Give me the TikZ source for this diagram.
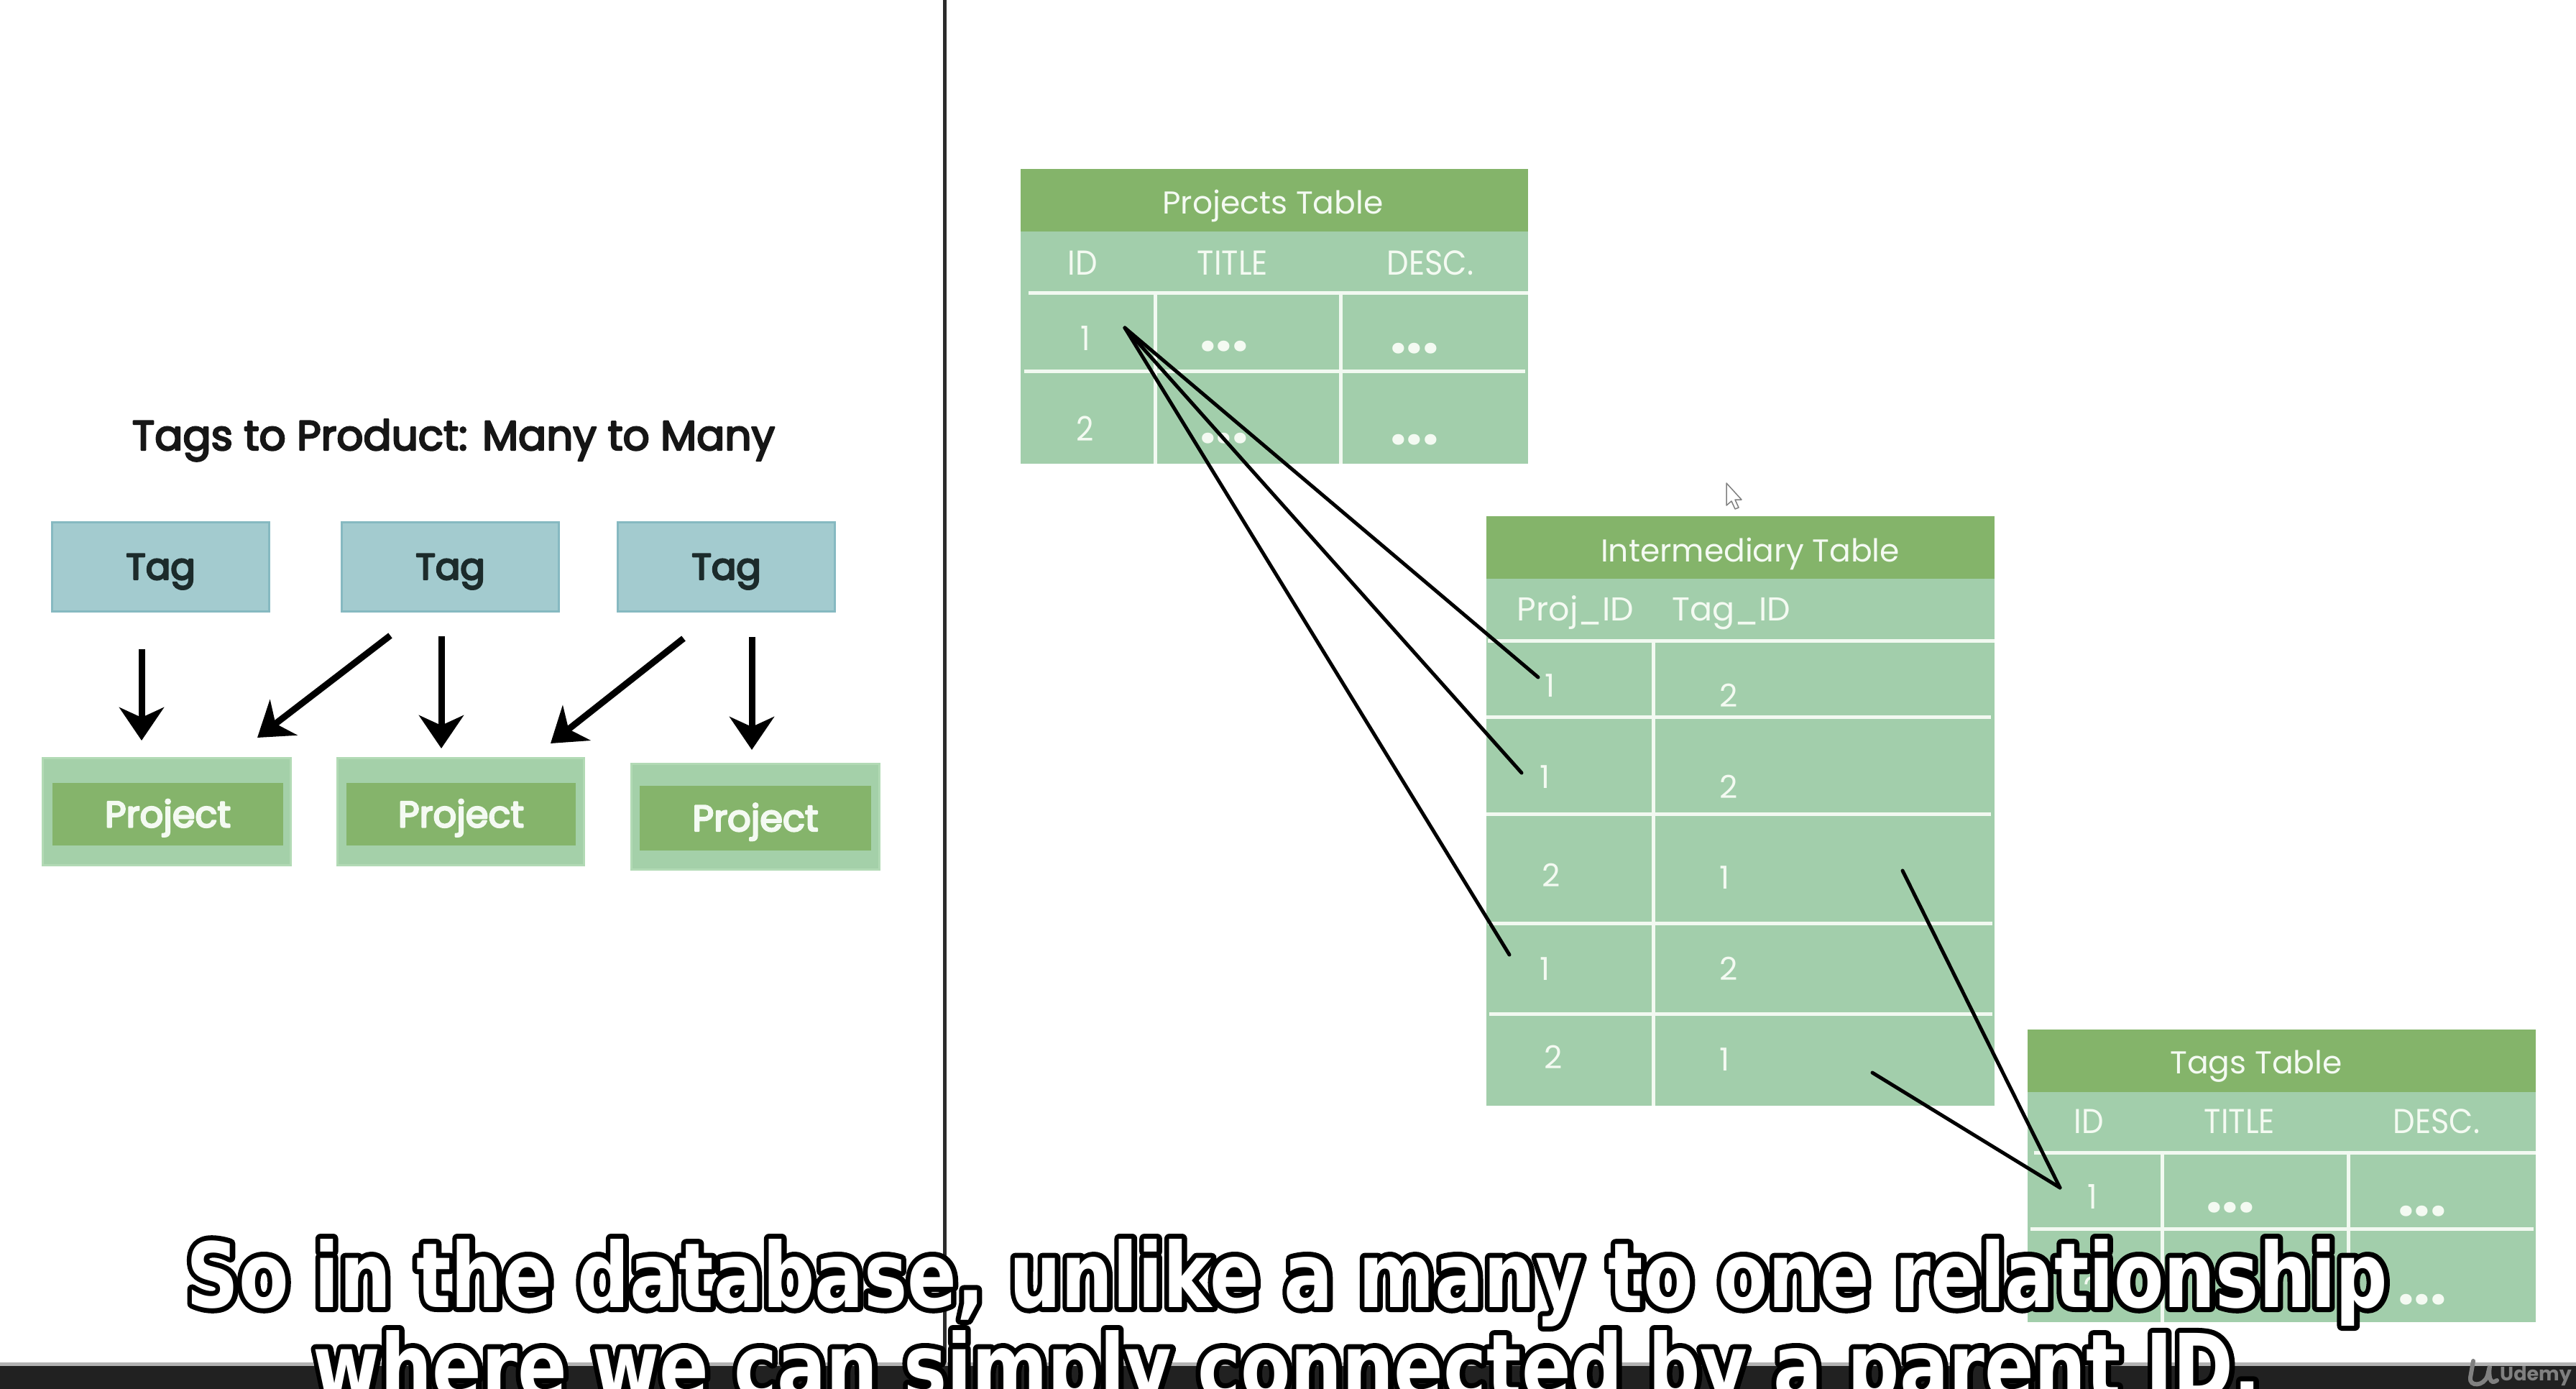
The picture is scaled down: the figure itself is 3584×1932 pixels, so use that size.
\documentclass[tikz,border=0pt]{standalone}
\usepackage{fontspec}
\setmainfont{Poppins}
\newfontfamily\subfont{DejaVu Sans}[FakeStretch=0.81]
\newfontfamily\condfont{Poppins}[FakeStretch=0.9]
\usetikzlibrary{arrows.meta}
\definecolor{hdrgreen}{HTML}{84B46A}
\definecolor{cellgreen}{HTML}{A2CEAB}
\definecolor{sepwhite}{HTML}{F2F9F1}
\definecolor{txtwhite}{HTML}{F4FAF2}
\definecolor{tagfill}{HTML}{A3CBCF}
\definecolor{tagedge}{HTML}{86B9C1}
\definecolor{tagtext}{HTML}{1C2B2B}
\definecolor{projouter}{HTML}{A4D0A9}
\definecolor{projedge}{HTML}{B2DAB5}
\definecolor{projinner}{HTML}{85B46B}
\definecolor{barcol}{HTML}{212121}
\definecolor{divider}{HTML}{2B2B2B}
\definecolor{titlecol}{HTML}{161616}
\newcommand\myfs[1]{\fontsize{#1}{#1}\selectfont}
\newcommand\medtext[1]{\special{pdf:literal direct 2 Tr 2.4 w 1 j}#1\special{pdf:literal direct 0 Tr}}
\newcommand\outlined[1]{\special{pdf:literal direct 2 Tr 14 w 1 j 0 g 0 G}#1\special{pdf:literal direct 0 Tr}}
\newcommand\subtext[1]{\rlap{\color{black}\outlined{#1}}#1}
\begin{document}
\begin{tikzpicture}[x=1pt,y=-1pt,
  sepline/.style={draw=sepwhite, line width=5pt},
  tabtitle/.style={inner sep=0, anchor=base, text=txtwhite, font=\myfs{44}},
  colhd/.style={inner sep=0, anchor=base, text=txtwhite, font=\condfont\myfs{48}},
  icolhd/.style={inner sep=0, anchor=base, text=txtwhite, font=\myfs{46}},
  tval/.style={inner sep=0, anchor=base, text=txtwhite, font=\myfs{44}},
  cval/.style={inner sep=0, anchor=base, text=txtwhite, font=\condfont\myfs{47}},
  tdots/.style={inner sep=0, text=txtwhite, font=\bfseries\myfs{80}},
  link/.style={draw=black, line width=5pt, line cap=round},
  tagbox/.style={draw=tagedge, line width=3pt, fill=tagfill, inner sep=0,
    minimum width=302pt, minimum height=124pt, text=tagtext, font=\myfs{51},
    text height=36pt, text depth=0pt},
  projbox/.style={draw=projedge, line width=3pt, fill=projouter, inner sep=0},
  projlabel/.style={fill=projinner, inner sep=0, text=txtwhite, font=\myfs{51},
    text height=36pt, text depth=0pt},
  manyarrow/.style={draw=black, line width=9pt, -{Stealth[length=46pt,width=62pt,inset=14pt]}},
  subline/.style={inner sep=0, anchor=base, text=white, font=\subfont\bfseries\myfs{125}}
]
\useasboundingbox (0,0) rectangle (3584,1932);
\clip (0,0) rectangle (3584,1932);
\fill[white] (0,0) rectangle (3584,1932);

% ---------- left panel ----------
\node[inner sep=0, anchor=base, text=titlecol, font=\myfs{58}] (title) at (631,626)
  {\medtext{Tags to Product: Many to Many}};

\node[tagbox] (tag1) at (223.5,788) {\medtext{Tag}};
\node[tagbox] (tag2) at (626.5,788) {\medtext{Tag}};
\node[tagbox] (tag3) at (1010.5,788) {\medtext{Tag}};

\node[projbox, minimum width=345pt, minimum height=149pt] (proj1) at (231.5,1128.5) {};
\node[projbox, minimum width=343pt, minimum height=149pt] (proj2) at (640.5,1128.5) {};
\node[projbox, minimum width=345pt, minimum height=147pt] (proj3) at (1050.5,1135.5) {};
\node[projlabel, minimum width=321pt, minimum height=87pt] (plab1) at (233.5,1132.5) {\medtext{Project}};
\node[projlabel, minimum width=319pt, minimum height=87pt] (plab2) at (641.5,1132.5) {\medtext{Project}};
\node[projlabel, minimum width=322pt, minimum height=90pt] (plab3) at (1051,1138) {\medtext{Project}};

\coordinate (a1s) at (197,903);  \coordinate (a1e) at (197,1030);
\coordinate (a2s) at (543,884);  \coordinate (a2e) at (358,1026);
\coordinate (a3s) at (614,885);  \coordinate (a3e) at (614,1041);
\coordinate (a4s) at (951,888);  \coordinate (a4e) at (766,1034);
\coordinate (a5s) at (1046,886); \coordinate (a5e) at (1046,1043);
\draw[manyarrow] (a1s) -- (a1e);
\draw[manyarrow] (a2s) -- (a2e);
\draw[manyarrow] (a3s) -- (a3e);
\draw[manyarrow] (a4s) -- (a4e);
\draw[manyarrow] (a5s) -- (a5e);

% divider
\draw[divider, line width=5pt] (1314,0) -- (1314,1897);

% ---------- Projects table ----------
\fill[hdrgreen] (1420,235) rectangle (2126,322);
\fill[cellgreen] (1420,322) rectangle (2126,645);
\draw[sepline] (1431,407) -- (2126,407);
\draw[sepline] (1425,516) -- (2122,516);
\draw[sepline] (1607,407) -- (1607,645);
\draw[sepline] (1865,407) -- (1865,645);
\node[tabtitle] (pttl) at (1771,297) {Projects Table};
\node[colhd] (pcid) at (1506,382) {ID};
\node[colhd] (pctitle) at (1715,382) {TITLE};
\node[colhd] (pcdesc) at (1990,382) {DESC.};
\node[cval] (pv1) at (1510,487) {1};
\node[tdots] (pt1) at (1703,482) {...};
\node[tdots] (pd1) at (1968,485) {...};
\node[cval] (pv2) at (1510,613) {2};
\node[tdots] (pt2) at (1703,610) {...};
\node[tdots] (pd2) at (1968,612) {...};

% ---------- Intermediary table ----------
\fill[hdrgreen] (2068,718) rectangle (2775,805);
\fill[cellgreen] (2068,805) rectangle (2775,1538);
\draw[sepline] (2070,891) -- (2775,891);
\draw[sepline] (2068,997) -- (2770,997);
\draw[sepline] (2068,1132) -- (2770,1132);
\draw[sepline] (2070,1284) -- (2772,1284);
\draw[sepline] (2072,1410) -- (2772,1410);
\draw[sepline] (2300,891) -- (2300,1538);
\node[tabtitle] (ittl) at (2435,781) {Intermediary Table};
\node[icolhd] (icproj) at (2192,863) {Proj\_ID};
\node[icolhd] (ictag) at (2409,863) {Tag\_ID};
\node[tval] (ip1) at (2157,969) {1};  \node[tval] (it1) at (2405,983) {2};
\node[tval] (ip2) at (2150,1096) {1}; \node[tval] (it2) at (2405,1110) {2};
\node[tval] (ip3) at (2158,1233) {2}; \node[tval] (it3) at (2400,1236) {1};
\node[tval] (ip4) at (2150,1363) {1}; \node[tval] (it4) at (2405,1363) {2};
\node[tval] (ip5) at (2161,1486) {2}; \node[tval] (it5) at (2400,1489) {1};

% ---------- Tags table ----------
\fill[hdrgreen] (2821,1432) rectangle (3528,1519);
\fill[cellgreen] (2821,1519) rectangle (3528,1839);
\draw[sepline] (2830,1603) -- (3528,1603);
\draw[sepline] (2825,1709) -- (3525,1709);
\draw[sepline] (3008,1603) -- (3008,1839);
\draw[sepline] (3267,1603) -- (3267,1839);
\node[tabtitle] (tttl) at (3139,1493) {Tags Table};
\node[colhd] (tcid) at (2906,1576) {ID};
\node[colhd] (tctitle) at (3116,1576) {TITLE};
\node[colhd] (tcdesc) at (3390,1576) {DESC.};
\node[cval] (tv1) at (2911,1681) {1};
\node[tdots] (tt1) at (3103,1680) {...};
\node[tdots] (td1) at (3370,1685) {...};
\node[cval] (tv2) at (2911,1810) {2};
\node[tdots] (tt2) at (3103,1806) {...};
\node[tdots] (td2) at (3370,1808) {...};

% ---------- connectors ----------
\coordinate (pid1) at (1565,456);
\coordinate (im1) at (2140,942);
\coordinate (im2) at (2117,1075);
\coordinate (im4) at (2100,1328);
\coordinate (tid1) at (2866,1652);
\coordinate (im3t) at (2647,1211);
\coordinate (im5t) at (2605,1492);
\draw[link] (pid1) -- (im1);
\draw[link] (pid1) -- (im2);
\draw[link] (pid1) -- (im4);
\draw[link] (im3t) -- (tid1);
\draw[link] (im5t) -- (tid1);

% mouse cursor
\filldraw[fill=white, draw=gray, line width=1.5pt, line join=round]
  (2402,672) -- (2402,703) -- (2409,697) -- (2414,708) -- (2419,706) -- (2414,695) -- (2423,695) -- cycle;

% ---------- bottom bar ----------
\fill[gray!60] (0,1895) rectangle (3584,1900);
\fill[barcol] (0,1900) rectangle (3584,1932);
\draw[gray, line width=6pt, line cap=round]
  (3441,1893) -- (3437,1916) .. controls (3435,1929) and (3456,1929) .. (3461,1913) -- (3464,1900)
  .. controls (3462,1914) and (3464,1927) .. (3474,1920);
\node[inner sep=0, text=gray, font=\bfseries\myfs{27}] (udemy) at (3528,1914) {Udemy};

% ---------- subtitles ----------
\node[subline] (sub1) at (1791,1818) {\subtext{So in the database, unlike a many to one relationship}};
\node[subline] (sub2) at (1791,1945) {\subtext{where we can simply connected by a parent ID.}};
\end{tikzpicture}
\end{document}
